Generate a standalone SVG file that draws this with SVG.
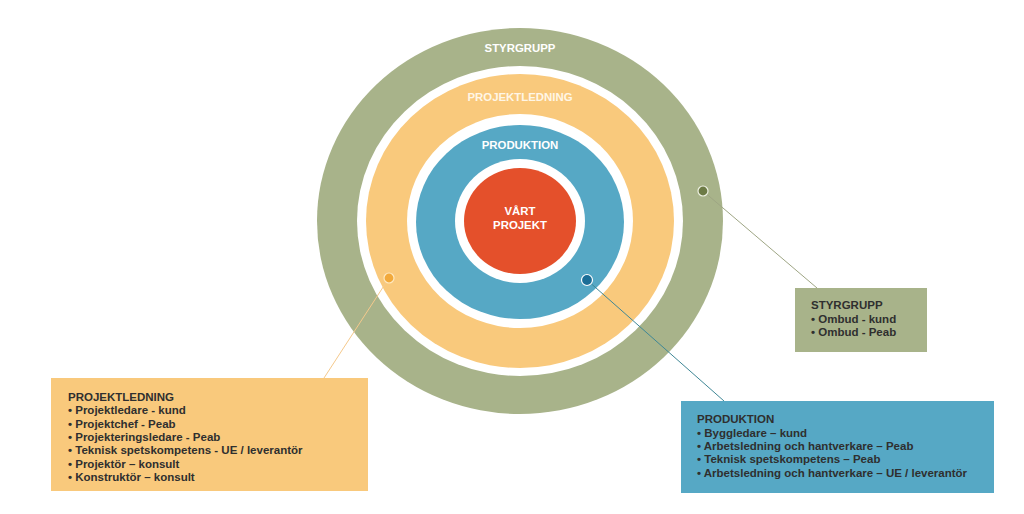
<svg xmlns="http://www.w3.org/2000/svg" width="1024" height="514" viewBox="0 0 1024 514">
  <style>
    .lbl { font-family: "Liberation Sans", Arial, sans-serif; font-weight: bold; font-size: 11.4px; text-anchor: middle; fill: #ffffff; }
    .box-text { font-family: "Liberation Sans", Arial, sans-serif; font-weight: bold; font-size: 11.5px; fill: #2f2f2f; }
    .conn { fill: none; stroke-width: 1; }
  </style>
  <rect x="0" y="0" width="1024" height="514" fill="#ffffff"/>

  <g id="ring-styrgrupp">
    <ellipse cx="520" cy="221" rx="203" ry="193" fill="#a8b38a"/>
    <ellipse cx="520" cy="221" rx="163" ry="155" fill="#ffffff"/>
    <text class="lbl" x="520" y="52">STYRGRUPP</text>
  </g>
  <g id="ring-projektledning">
    <ellipse cx="520" cy="221" rx="154" ry="147" fill="#f9c97c"/>
    <ellipse cx="520" cy="221" rx="113" ry="107" fill="#ffffff"/>
    <text class="lbl" x="520" y="101" style="fill:#fff6e6">PROJEKTLEDNING</text>
  </g>
  <g id="ring-produktion">
    <ellipse cx="520" cy="222" rx="104" ry="97" fill="#56a8c5"/>
    <ellipse cx="520" cy="221" rx="65" ry="62" fill="#ffffff"/>
    <text class="lbl" x="520" y="149">PRODUKTION</text>
  </g>
  <g id="core-vart-projekt">
    <ellipse cx="520" cy="221" rx="56" ry="53" fill="#e4502b"/>
    <text class="lbl" x="520" y="215">VÅRT</text>
    <text class="lbl" x="520" y="229">PROJEKT</text>
  </g>

  <g id="connectors">
    <line class="conn" x1="703" y1="191" x2="817" y2="288" stroke="#9ea584"/>
    <line class="conn" x1="389" y1="278" x2="324" y2="378" stroke="#f5c98c"/>
    <line class="conn" x1="587" y1="280" x2="724" y2="401" stroke="#3f8796"/>
    <circle cx="703" cy="191" r="5" fill="#6d7b46" stroke="#eef1e2" stroke-width="1.2"/>
    <circle cx="389" cy="278" r="5" fill="#f2a93b" stroke="#fde8c0" stroke-width="1.2"/>
    <circle cx="587" cy="280" r="5.5" fill="#1b6e97" stroke="#ffffff" stroke-width="1.2"/>
  </g>

  <g id="box-styrgrupp">
    <rect x="795" y="288" width="132" height="64" fill="#a8b38a"/>
    <text class="box-text" x="811" y="309">STYRGRUPP</text>
    <text class="box-text" x="811" y="322.5">• Ombud - kund</text>
    <text class="box-text" x="811" y="336">• Ombud - Peab</text>
  </g>

  <g id="box-projektledning">
    <rect x="51" y="378" width="317" height="113" fill="#f9c97c"/>
    <text class="box-text" x="68" y="401">PROJEKTLEDNING</text>
    <text class="box-text" x="68" y="414.3">• Projektledare - kund</text>
    <text class="box-text" x="68" y="427.6">• Projektchef - Peab</text>
    <text class="box-text" x="68" y="440.9">• Projekteringsledare - Peab</text>
    <text class="box-text" x="68" y="454.2">• Teknisk spetskompetens - UE / leverantör</text>
    <text class="box-text" x="68" y="467.5">• Projektör – konsult</text>
    <text class="box-text" x="68" y="480.8">• Konstruktör – konsult</text>
  </g>

  <g id="box-produktion">
    <rect x="681" y="401" width="313" height="92" fill="#56a8c5"/>
    <text class="box-text" x="697" y="423.3">PRODUKTION</text>
    <text class="box-text" x="697" y="436.6">• Byggledare – kund</text>
    <text class="box-text" x="697" y="449.9">• Arbetsledning och hantverkare – Peab</text>
    <text class="box-text" x="697" y="463.2">• Teknisk spetskompetens – Peab</text>
    <text class="box-text" x="697" y="476.5">• Arbetsledning och hantverkare – UE / leverantör</text>
  </g>
</svg>
